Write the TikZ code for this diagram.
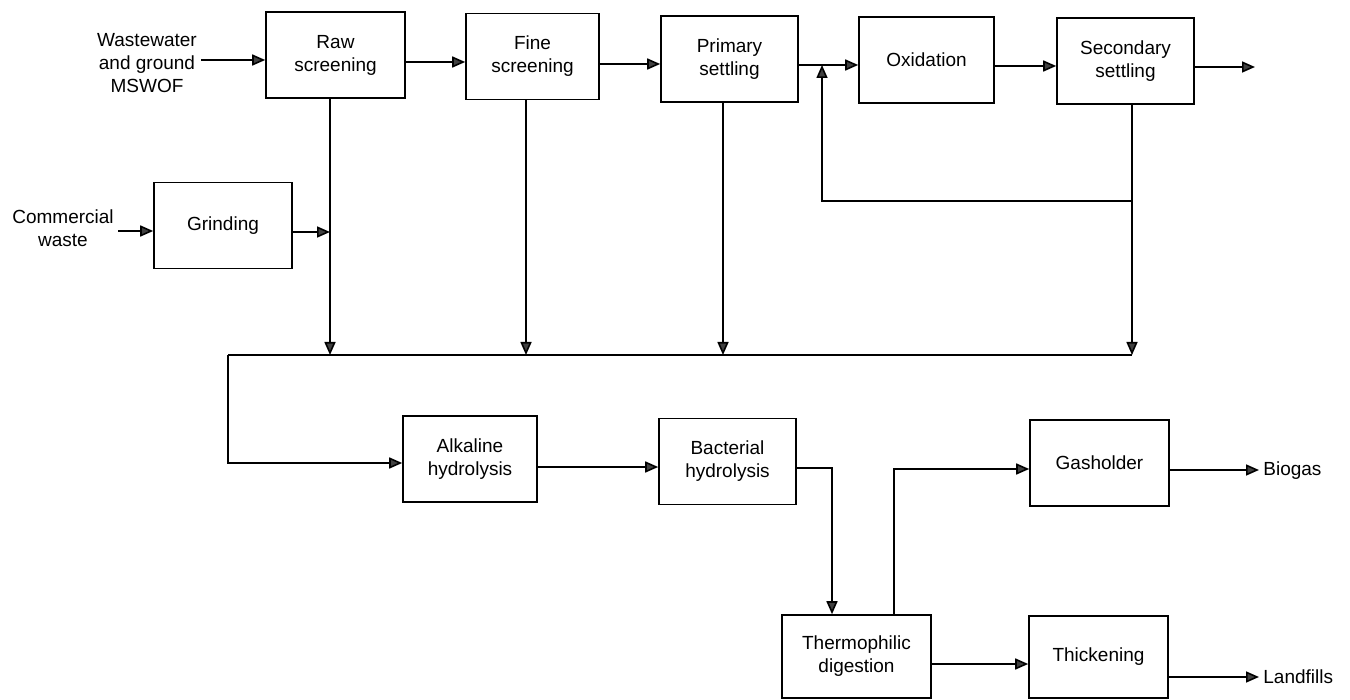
\documentclass[tikz,border=0pt]{standalone}
\usepackage{fontspec}
\setmainfont{Liberation Sans}
\usetikzlibrary{arrows.meta, positioning}

\tikzset{
  unit/.style={draw, line width=0.8pt, minimum width=68.5pt, minimum height=43pt, align=center, inner sep=2pt},
  flow/.style={line width=0.8pt, -{Triangle[length=6.5pt, width=5.5pt, fill=black!75]}},
  pipe/.style={line width=0.8pt},
  lbl/.style={align=center, inner sep=2pt}
}

\begin{document}
\begin{tikzpicture}[x=0.5pt, y=-0.5pt, font=\fontsize{9.5}{11.5}\selectfont]
  \useasboundingbox (0,0) rectangle (1350,700);

  % upper line
  \node[unit, minimum width=69.5pt] (raw) at (335.5,55) {Raw\\screening};
  \node[unit, minimum width=66.5pt] (fine) at (532.5,56.5) {Fine\\screening};
  \node[unit] (prim) at (729.5,59) {Primary\\settling};
  \node[unit, minimum width=67.5pt] (oxid) at (926.5,60) {Oxidation};
  \node[unit] (sec) at (1125.5,61) {Secondary\\settling};
  \node[unit, minimum width=69pt] (grind) at (223,225.5) {Grinding};

  % sludge line
  \node[unit, minimum width=67pt] (alk) at (470,459) {Alkaline\\hydrolysis};
  \node[unit] (bact) at (727.5,461.5) {Bacterial\\hydrolysis};
  \node[unit, minimum width=74.5pt, minimum height=41.5pt] (thermo) at (856.5,656.5) {Thermophilic\\digestion};
  \node[unit, minimum width=69.5pt] (gas) at (1099.5,463) {Gasholder};
  \node[unit, minimum width=69.5pt, minimum height=41pt] (thick) at (1098.5,657) {Thickening};

  \node[lbl] (ww) at (147,63) {Wastewater\\and ground\\MSWOF};
  \node[lbl] (cw) at (63,228) {Commercial\\waste};
  \node[lbl, anchor=west] (biogas) at (1259,471) {Biogas};
  \node[lbl, anchor=west] (landf) at (1259,677) {Landfills};

  \coordinate (busL) at (228,355);
  \coordinate (busR) at (1132,355);
  \coordinate (recyc) at (1132,201);
  \coordinate (mix) at (822,65);
  \coordinate (effl) at (1255,67);
  \coordinate (join) at (330,232);

  \draw[flow] (ww.east |- 0,60) -- (raw.west |- 0,60);
  \draw[flow] (raw.east |- 0,62) -- (fine.west |- 0,62);
  \draw[flow] (fine.east |- 0,64) -- (prim.west |- 0,64);
  \draw[flow] (prim.east |- 0,65) -- (oxid.west |- 0,65);
  \draw[flow] (oxid.east |- 0,66) -- (sec.west |- 0,66);
  \draw[flow] (sec.east |- effl) -- (effl);
  \draw[flow] (cw.east |- 0,231) -- (grind.west |- 0,231);
  \draw[flow] (grind.east |- join) -- (join);

  \foreach \n/\x in {raw/330, fine/526, prim/723} {
    \draw[flow] (\n.south -| \x,0) -- (\x,0 |- busL);
  }
  \draw[pipe] (sec.south -| recyc) -- (recyc);
  \draw[flow] (recyc) -- (busR);
  \draw[flow] (recyc) -| (mix);

  \draw[pipe] (busL) -- (busR);
  \draw[flow] (busL) |- (alk.west |- 0,463);
  \draw[flow] (alk.east |- 0,467) -- (bact.west |- 0,467);
  \draw[flow] (bact.east |- 0,468) -| (832,0 |- thermo.north);
  \draw[flow] (894,0 |- thermo.north) |- (gas.west |- 0,469);
  \draw[flow] (thermo.east |- 0,664) -- (thick.west |- 0,664);
  \draw[flow] (gas.east |- 0,470) -- (biogas.west |- 0,470);
  \draw[flow] (thick.east |- 0,677) -- (landf.west |- 0,677);
\end{tikzpicture}
\end{document}
